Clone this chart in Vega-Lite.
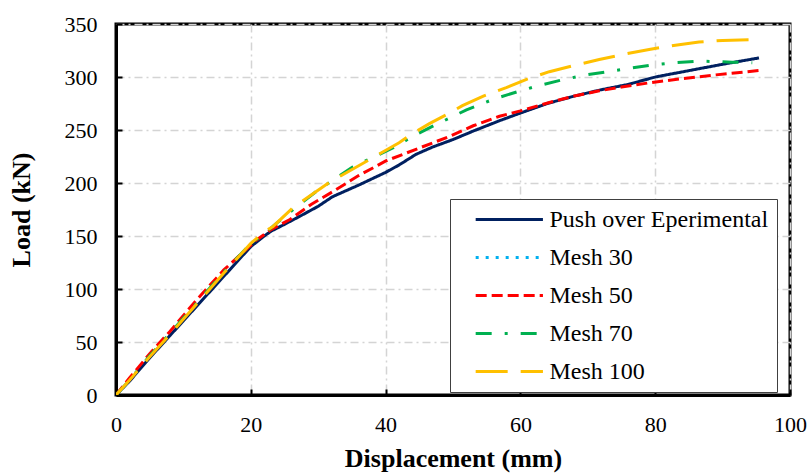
{
  "$schema": "https://vega.github.io/schema/vega-lite/v6.json",
  "width": 674,
  "height": 371,
  "autosize": {"type": "none"},
  "padding": {"left": 116, "top": 24, "right": 18, "bottom": 79},
  "background": "white",
  "config": {
    "font": "Liberation Serif",
    "view": {"stroke": "black", "strokeWidth": 3},
    "axis": {
      "labelFont": "Liberation Serif",
      "labelFontSize": 22,
      "labelColor": "black",
      "labelFlush": false,
      "titleFont": "Liberation Serif",
      "titleFontSize": 26,
      "titleFontWeight": "bold",
      "titleColor": "black",
      "domainColor": "black",
      "domainWidth": 3,
      "tickColor": "black",
      "tickWidth": 2,
      "tickSize": -6,
      "gridColor": "#d4d4d4",
      "gridWidth": 1.5,
      "gridDash": [8, 4, 2, 4]
    }
  },
  "data": {
    "values": [
      {"series": "Push over Eperimental", "x": 0, "y": 0},
      {"series": "Push over Eperimental", "x": 2, "y": 13},
      {"series": "Push over Eperimental", "x": 5, "y": 35},
      {"series": "Push over Eperimental", "x": 8, "y": 56},
      {"series": "Push over Eperimental", "x": 12, "y": 84},
      {"series": "Push over Eperimental", "x": 16, "y": 112},
      {"series": "Push over Eperimental", "x": 20, "y": 140},
      {"series": "Push over Eperimental", "x": 22, "y": 150},
      {"series": "Push over Eperimental", "x": 23, "y": 154.5},
      {"series": "Push over Eperimental", "x": 25, "y": 161},
      {"series": "Push over Eperimental", "x": 27.3, "y": 168.7},
      {"series": "Push over Eperimental", "x": 30, "y": 178},
      {"series": "Push over Eperimental", "x": 32.1, "y": 187},
      {"series": "Push over Eperimental", "x": 36, "y": 198},
      {"series": "Push over Eperimental", "x": 40, "y": 210},
      {"series": "Push over Eperimental", "x": 42, "y": 217},
      {"series": "Push over Eperimental", "x": 44.5, "y": 227},
      {"series": "Push over Eperimental", "x": 47, "y": 234},
      {"series": "Push over Eperimental", "x": 50, "y": 241},
      {"series": "Push over Eperimental", "x": 53, "y": 249},
      {"series": "Push over Eperimental", "x": 57, "y": 259},
      {"series": "Push over Eperimental", "x": 60, "y": 266},
      {"series": "Push over Eperimental", "x": 64, "y": 275},
      {"series": "Push over Eperimental", "x": 68, "y": 282},
      {"series": "Push over Eperimental", "x": 72, "y": 288},
      {"series": "Push over Eperimental", "x": 76, "y": 293},
      {"series": "Push over Eperimental", "x": 80, "y": 300},
      {"series": "Push over Eperimental", "x": 85, "y": 306},
      {"series": "Push over Eperimental", "x": 90, "y": 312},
      {"series": "Push over Eperimental", "x": 95.4, "y": 318},
      {"series": "Mesh 50", "x": 0, "y": 0},
      {"series": "Mesh 50", "x": 2, "y": 16},
      {"series": "Mesh 50", "x": 5, "y": 39},
      {"series": "Mesh 50", "x": 8, "y": 60},
      {"series": "Mesh 50", "x": 12, "y": 90},
      {"series": "Mesh 50", "x": 16, "y": 118},
      {"series": "Mesh 50", "x": 20.8, "y": 146},
      {"series": "Mesh 50", "x": 23, "y": 156},
      {"series": "Mesh 50", "x": 25.8, "y": 165.6},
      {"series": "Mesh 50", "x": 29, "y": 180},
      {"series": "Mesh 50", "x": 32.2, "y": 192},
      {"series": "Mesh 50", "x": 36, "y": 207},
      {"series": "Mesh 50", "x": 40.1, "y": 221},
      {"series": "Mesh 50", "x": 45, "y": 233},
      {"series": "Mesh 50", "x": 49.5, "y": 244},
      {"series": "Mesh 50", "x": 53, "y": 254},
      {"series": "Mesh 50", "x": 56.9, "y": 263},
      {"series": "Mesh 50", "x": 60, "y": 268},
      {"series": "Mesh 50", "x": 64.3, "y": 276},
      {"series": "Mesh 50", "x": 68, "y": 282},
      {"series": "Mesh 50", "x": 71.7, "y": 287},
      {"series": "Mesh 50", "x": 75, "y": 290.5},
      {"series": "Mesh 50", "x": 79.1, "y": 294.5},
      {"series": "Mesh 50", "x": 84, "y": 298.5},
      {"series": "Mesh 50", "x": 89, "y": 302},
      {"series": "Mesh 50", "x": 93, "y": 304.5},
      {"series": "Mesh 50", "x": 95.9, "y": 306.4},
      {"series": "Mesh 70", "x": 0, "y": 0},
      {"series": "Mesh 70", "x": 2, "y": 14},
      {"series": "Mesh 70", "x": 5, "y": 37},
      {"series": "Mesh 70", "x": 8, "y": 58},
      {"series": "Mesh 70", "x": 12, "y": 87},
      {"series": "Mesh 70", "x": 16, "y": 116},
      {"series": "Mesh 70", "x": 20, "y": 143},
      {"series": "Mesh 70", "x": 22, "y": 152},
      {"series": "Mesh 70", "x": 23.8, "y": 162},
      {"series": "Mesh 70", "x": 26.5, "y": 176},
      {"series": "Mesh 70", "x": 29.7, "y": 192},
      {"series": "Mesh 70", "x": 35.1, "y": 215},
      {"series": "Mesh 70", "x": 41.6, "y": 234.7},
      {"series": "Mesh 70", "x": 44, "y": 244},
      {"series": "Mesh 70", "x": 47, "y": 253.6},
      {"series": "Mesh 70", "x": 52, "y": 269},
      {"series": "Mesh 70", "x": 56, "y": 279},
      {"series": "Mesh 70", "x": 60, "y": 287},
      {"series": "Mesh 70", "x": 62.8, "y": 292},
      {"series": "Mesh 70", "x": 66, "y": 297},
      {"series": "Mesh 70", "x": 69.7, "y": 302},
      {"series": "Mesh 70", "x": 74, "y": 306},
      {"series": "Mesh 70", "x": 79.1, "y": 311},
      {"series": "Mesh 70", "x": 83, "y": 313.5},
      {"series": "Mesh 70", "x": 86.5, "y": 315},
      {"series": "Mesh 70", "x": 91.4, "y": 314},
      {"series": "Mesh 70", "x": 94.4, "y": 313.4},
      {"series": "Mesh 100", "x": 0, "y": 0},
      {"series": "Mesh 100", "x": 2, "y": 14},
      {"series": "Mesh 100", "x": 5, "y": 36},
      {"series": "Mesh 100", "x": 8, "y": 57},
      {"series": "Mesh 100", "x": 12, "y": 86},
      {"series": "Mesh 100", "x": 16, "y": 115},
      {"series": "Mesh 100", "x": 20, "y": 143},
      {"series": "Mesh 100", "x": 22, "y": 154},
      {"series": "Mesh 100", "x": 23.3, "y": 159},
      {"series": "Mesh 100", "x": 26.3, "y": 177},
      {"series": "Mesh 100", "x": 31.7, "y": 200.8},
      {"series": "Mesh 100", "x": 37.6, "y": 222},
      {"series": "Mesh 100", "x": 42, "y": 238},
      {"series": "Mesh 100", "x": 43.6, "y": 245},
      {"series": "Mesh 100", "x": 46.5, "y": 256},
      {"series": "Mesh 100", "x": 49.5, "y": 266},
      {"series": "Mesh 100", "x": 51.4, "y": 273},
      {"series": "Mesh 100", "x": 54.5, "y": 282},
      {"series": "Mesh 100", "x": 57.9, "y": 290},
      {"series": "Mesh 100", "x": 61, "y": 298},
      {"series": "Mesh 100", "x": 64.3, "y": 305},
      {"series": "Mesh 100", "x": 68, "y": 311},
      {"series": "Mesh 100", "x": 71.7, "y": 316.5},
      {"series": "Mesh 100", "x": 75, "y": 321},
      {"series": "Mesh 100", "x": 79.1, "y": 326},
      {"series": "Mesh 100", "x": 83, "y": 330},
      {"series": "Mesh 100", "x": 86.5, "y": 333},
      {"series": "Mesh 100", "x": 90, "y": 334.5},
      {"series": "Mesh 100", "x": 95.4, "y": 335.4}
    ]
  },
  "mark": {"type": "line", "strokeWidth": 3, "clip": true},
  "encoding": {
    "x": {
      "field": "x", "type": "quantitative",
      "scale": {"domain": [0, 100], "nice": false},
      "axis": {"values": [0, 20, 40, 60, 80, 100], "title": "Displacement (mm)", "labelPadding": 25, "titlePadding": 10}
    },
    "y": {
      "field": "y", "type": "quantitative",
      "scale": {"domain": [0, 350], "nice": false},
      "axis": {"values": [0, 50, 100, 150, 200, 250, 300, 350], "title": "Load (kN)", "labelPadding": 25, "titlePadding": 30}
    },
    "color": {
      "field": "series", "type": "nominal",
      "scale": {
        "domain": ["Push over Eperimental", "Mesh 30", "Mesh 50", "Mesh 70", "Mesh 100"],
        "range": ["#002060", "#00B0F0", "#FF0000", "#00B050", "#FFC000"]
      },
      "legend": {
        "title": null,
        "orient": "none",
        "legendX": 334,
        "legendY": 175,
        "padding": 8.5,
        "strokeColor": "#404040",
        "fillColor": "white",
        "symbolType": "M1.5,0H21",
        "symbolSize": 47.6,
        "symbolStrokeWidth": 3,
        "labelFont": "Liberation Serif",
        "labelFontSize": 24,
        "labelColor": "black",
        "labelOffset": 67,
        "rowPadding": 14,
        "labelLimit": 400
      }
    },
    "strokeDash": {
      "field": "series", "type": "nominal",
      "scale": {
        "domain": ["Push over Eperimental", "Mesh 30", "Mesh 50", "Mesh 70", "Mesh 100"],
        "range": [[1, 0], [3, 7], [11, 5], [16, 13, 3, 13], [32, 13]]
      },
      "legend": null
    }
  }
}
